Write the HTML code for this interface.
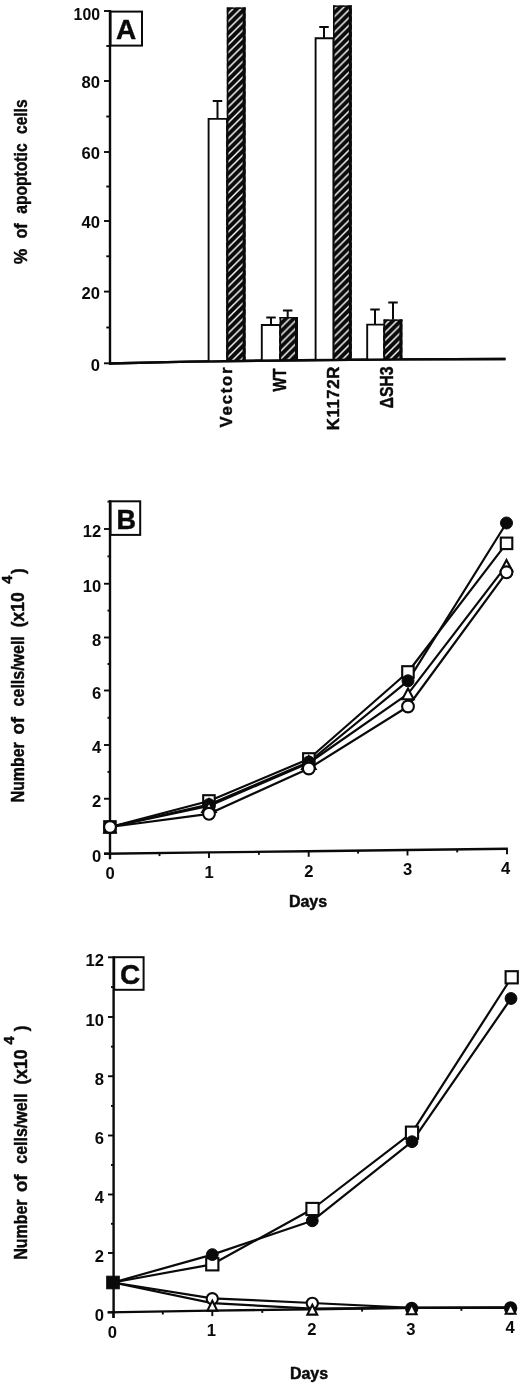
<!DOCTYPE html>
<html lang="en">
<head>
<meta charset="utf-8">
<title>Figure: apoptosis and cell growth</title>
<style>
html,body{margin:0;padding:0;background:#fff;}
body{width:520px;height:1387px;overflow:hidden;}
svg{display:block;position:absolute;left:0;top:0;filter:blur(0.35px);}
text{font-family:"Liberation Sans",sans-serif;fill:#0a0a0a;}
.b{font-weight:bold;stroke:#0a0a0a;stroke-width:0.45;stroke-linejoin:round;}
.ax{stroke:#0a0a0a;stroke-width:2.4;fill:none;stroke-linecap:butt;}
.tk{stroke:#0a0a0a;stroke-width:1.9;fill:none;}
.ln{stroke:#0a0a0a;stroke-width:2.2;fill:none;stroke-linejoin:round;}
.eb{stroke:#0a0a0a;stroke-width:2.0;fill:none;}
.ob{stroke:#0a0a0a;stroke-width:1.9;fill:#fff;}
.mk{stroke:#0a0a0a;stroke-width:2.1;fill:#fff;}
.mf{stroke:#0a0a0a;stroke-width:1;fill:#0a0a0a;}
.mk3{stroke:#0a0a0a;stroke-width:3.4;fill:#fff;}
.mk2{stroke:#0a0a0a;stroke-width:2.2;fill:#0a0a0a;}
.num{font-weight:bold;}
</style>
</head>
<body>
<svg width="520" height="1387" viewBox="0 0 520 1387">
<defs>
<pattern id="hatch" patternUnits="userSpaceOnUse" width="7.8" height="7.8" x="0" y="0">
<rect x="0" y="0" width="7.8" height="7.8" fill="#0a0a0a"/>
<path d="M-1.95,1.95 L1.95,-1.95 M-1,8.8 L8.8,-1 M5.85,9.75 L9.75,5.85" stroke="#fff" stroke-width="1.4"/>
</pattern>
</defs>
<rect x="0" y="0" width="520" height="1387" fill="#fff"/>

<g id="panelA">
<path class="ax" d="M110,10 L110,364.5"/>
<path class="ax" d="M109,363.5 L190,361.6 L300,360.2 L400,359.4 L505.5,359"/>
<path class="tk" d="M104,11 L110,11"/>
<text class="num" transform="translate(100.0,19.5) scale(0.99,1.06)" font-size="16" text-anchor="end">100</text>
<path class="tk" d="M104,81 L110,81"/>
<text class="num" transform="translate(100.0,88.4) scale(1.04,1.06)" font-size="16" text-anchor="end">80</text>
<path class="tk" d="M104,152 L110,152"/>
<text class="num" transform="translate(100.0,159.4) scale(1.04,1.06)" font-size="16" text-anchor="end">60</text>
<path class="tk" d="M104,221 L110,221"/>
<text class="num" transform="translate(100.0,228.4) scale(1.04,1.06)" font-size="16" text-anchor="end">40</text>
<path class="tk" d="M104,291.6 L110,291.6"/>
<text class="num" transform="translate(100.0,299.0) scale(1.04,1.06)" font-size="16" text-anchor="end">20</text>
<path class="tk" d="M104,363.3 L110,363.3"/>
<text class="num" transform="translate(100.0,370.7) scale(1.04,1.06)" font-size="16" text-anchor="end">0</text>
<path class="tk" d="M106.3,46.0 L110,46.0"/>
<path class="tk" d="M106.3,116.5 L110,116.5"/>
<path class="tk" d="M106.3,186.5 L110,186.5"/>
<path class="tk" d="M106.3,256.3 L110,256.3"/>
<path class="tk" d="M106.3,327.5 L110,327.5"/>
<rect x="110.6" y="11.6" width="31.4" height="34" fill="#fff" stroke="#0a0a0a" stroke-width="2"/>
<text class="b" x="126" y="38.8" font-size="28" text-anchor="middle">A</text>
<text class="b" transform="translate(26.5,264.2) rotate(-90)" font-size="19" textLength="15.6" lengthAdjust="spacingAndGlyphs">%</text>
<text class="b" transform="translate(26.5,238.5) rotate(-90)" font-size="19" textLength="15.2" lengthAdjust="spacingAndGlyphs">of</text>
<text class="b" transform="translate(26.5,213.8) rotate(-90)" font-size="19" textLength="70.4" lengthAdjust="spacingAndGlyphs">apoptotic</text>
<text class="b" transform="translate(26.5,134) rotate(-90)" font-size="19" textLength="34.6" lengthAdjust="spacingAndGlyphs">cells</text>
<path class="eb" d="M217.5,119 L217.5,101 M212.75,101 L222.25,101"/>
<path class="ob" d="M208.6,362 L208.6,118.9 L227,118.9 L227,362"/>
<rect x="226.8" y="7.5" width="18.80" height="354.00" fill="url(#hatch)"/>
<rect x="226.8" y="7.5" width="1.6" height="354.00" fill="#0a0a0a"/>
<rect x="242.60" y="7.5" width="3" height="354.00" fill="#0a0a0a"/>
<rect x="226.8" y="7.5" width="18.80" height="1.4" fill="#0a0a0a"/>
<path class="eb" d="M271,325 L271,317.5 M266.25,317.5 L275.75,317.5"/>
<path class="eb" d="M287.7,317 L287.7,310.5 M282.95,310.5 L292.45,310.5"/>
<path class="ob" d="M261.8,361 L261.8,325 L280,325 L280,361"/>
<rect x="279.6" y="317" width="18.40" height="43.80" fill="url(#hatch)"/>
<rect x="279.6" y="317" width="1.6" height="43.80" fill="#0a0a0a"/>
<rect x="295.00" y="317" width="3" height="43.80" fill="#0a0a0a"/>
<rect x="279.6" y="317" width="18.40" height="1.4" fill="#0a0a0a"/>
<path class="eb" d="M324,38 L324,27 M319.25,27 L328.75,27"/>
<path class="ob" d="M315.6,360.5 L315.6,38.3 L333.4,38.3 L333.4,360.5"/>
<rect x="333" y="5.5" width="18.80" height="354.90" fill="url(#hatch)"/>
<rect x="333" y="5.5" width="1.6" height="354.90" fill="#0a0a0a"/>
<rect x="348.80" y="5.5" width="3" height="354.90" fill="#0a0a0a"/>
<rect x="333" y="5.5" width="18.80" height="1.4" fill="#0a0a0a"/>
<path class="eb" d="M375,324.5 L375,309.5 M370.25,309.5 L379.75,309.5"/>
<path class="eb" d="M393,319.5 L393,302.5 M388.25,302.5 L397.75,302.5"/>
<path class="ob" d="M367.2,360 L367.2,324.6 L384,324.6 L384,360"/>
<rect x="383.6" y="319.5" width="18.80" height="40.50" fill="url(#hatch)"/>
<rect x="383.6" y="319.5" width="1.6" height="40.50" fill="#0a0a0a"/>
<rect x="399.40" y="319.5" width="3" height="40.50" fill="#0a0a0a"/>
<rect x="383.6" y="319.5" width="18.80" height="1.4" fill="#0a0a0a"/>
<path class="ax" d="M109,363.5 L190,361.6 L300,360.2 L400,359.4 L505.5,359"/>
<text class="b" transform="translate(232.4,427.4) rotate(-90)" font-size="16.8" textLength="60" lengthAdjust="spacing">Vector</text>
<text class="b" transform="translate(286,391.5) rotate(-90)" font-size="18.4" textLength="23" lengthAdjust="spacingAndGlyphs">WT</text>
<text class="b" transform="translate(338.6,430.3) rotate(-90)" font-size="16.8" textLength="63.6" lengthAdjust="spacing">K1172R</text>
<text class="b" transform="translate(393.4,408.4) rotate(-90)" font-size="18.2" textLength="42" lengthAdjust="spacingAndGlyphs">ΔSH3</text>
</g>
<g id="panelB">
<path class="ax" d="M110,500.2 L110,859"/>
<path class="ax" d="M104,853.8 L209,852.4 L308,851.3 L407,850 L507.8,848.8"/>
<path class="tk" d="M104,529 L110,529"/>
<text class="num" transform="translate(101.3,537.2) scale(1.04,1.06)" font-size="16" text-anchor="end">12</text>
<path class="tk" d="M104,583.75 L110,583.75"/>
<text class="num" transform="translate(101.3,591.9) scale(1.04,1.06)" font-size="16" text-anchor="end">10</text>
<path class="tk" d="M104,637.5 L110,637.5"/>
<text class="num" transform="translate(101.3,645.7) scale(1.04,1.06)" font-size="16" text-anchor="end">8</text>
<path class="tk" d="M104,690.5 L110,690.5"/>
<text class="num" transform="translate(101.3,698.7) scale(1.04,1.06)" font-size="16" text-anchor="end">6</text>
<path class="tk" d="M104,745 L110,745"/>
<text class="num" transform="translate(101.3,753.2) scale(1.04,1.06)" font-size="16" text-anchor="end">4</text>
<path class="tk" d="M104,798.75 L110,798.75"/>
<text class="num" transform="translate(101.3,806.9) scale(1.04,1.06)" font-size="16" text-anchor="end">2</text>
<path class="tk" d="M104,853.6 L110,853.6"/>
<text class="num" transform="translate(101.3,861.8) scale(1.04,1.06)" font-size="16" text-anchor="end">0</text>
<path class="tk" d="M107.5,556.4 L110,556.4"/>
<path class="tk" d="M107.5,610.6 L110,610.6"/>
<path class="tk" d="M107.5,664.0 L110,664.0"/>
<path class="tk" d="M107.5,717.8 L110,717.8"/>
<path class="tk" d="M107.5,771.9 L110,771.9"/>
<path class="tk" d="M107.5,826.2 L110,826.2"/>
<path class="tk" d="M107.5,501.6 L110,501.6"/>
<path class="tk" d="M110,853.8 L110,859.3"/>
<text class="num" transform="translate(110.2,879.1) scale(1.04,1.06)" font-size="16" text-anchor="middle">0</text>
<path class="tk" d="M209,852.4 L209,857.9"/>
<text class="num" transform="translate(209.2,877.7) scale(1.04,1.06)" font-size="16" text-anchor="middle">1</text>
<path class="tk" d="M308.7,851.3 L308.7,856.8"/>
<text class="num" transform="translate(308.9,876.6) scale(1.04,1.06)" font-size="16" text-anchor="middle">2</text>
<path class="tk" d="M407.5,850 L407.5,855.5"/>
<text class="num" transform="translate(407.7,875.3) scale(1.04,1.06)" font-size="16" text-anchor="middle">3</text>
<path class="tk" d="M507,848.8 L507,854.3"/>
<text class="num" transform="translate(505.6,874.1) scale(1.04,1.06)" font-size="16" text-anchor="middle">4</text>
<path class="tk" d="M159.5,853.1 L159.5,856.1"/>
<path class="tk" d="M258.9,851.8 L258.9,854.8"/>
<path class="tk" d="M358.1,850.6 L358.1,853.6"/>
<path class="tk" d="M457.2,849.4 L457.2,852.4"/>
<text class="b" x="308" y="907" font-size="16" text-anchor="middle">Days</text>
<rect x="110.6" y="501.3" width="29.6" height="33.6" fill="#fff" stroke="#0a0a0a" stroke-width="2"/>
<text class="b" x="126.3" y="528.6" font-size="27" text-anchor="middle">B</text>
<text class="b" transform="translate(24.2,802.3) rotate(-90)" font-size="17.7" textLength="60" lengthAdjust="spacingAndGlyphs">Number</text>
<text class="b" transform="translate(24.2,734.6) rotate(-90)" font-size="17.7" textLength="17.4" lengthAdjust="spacingAndGlyphs">of</text>
<text class="b" transform="translate(24.2,706.4) rotate(-90)" font-size="17.7" textLength="70.2" lengthAdjust="spacingAndGlyphs">cells/well</text>
<text class="b" transform="translate(24.2,627.3) rotate(-90)" font-size="17.7" textLength="35" lengthAdjust="spacingAndGlyphs">(x10</text>
<text class="b" transform="translate(11.5,583.8) rotate(-90)" font-size="13.8" textLength="8.2" lengthAdjust="spacingAndGlyphs">4</text>
<text class="b" transform="translate(24.2,574) rotate(-90)" font-size="17.7" textLength="5.6" lengthAdjust="spacingAndGlyphs">)</text>
<polyline class="ln" points="110.0,827.0 209.0,801.0 308.8,759.0 408.0,672.0 506.5,543.4"/>
<polyline class="ln" points="110.0,827.0 209.0,804.6 308.8,762.0 408.0,680.8 506.5,523.0"/>
<polyline class="ln" points="110.0,827.0 209.0,806.0 308.8,763.0 408.0,693.8 506.5,565.4"/>
<polyline class="ln" points="110.0,827.0 209.0,813.8 308.8,768.5 408.0,706.5 506.5,572.3"/>
<rect class="mk" x="104.2" y="821.2" width="11.5" height="11.5"/>
<circle class="mf" cx="110.0" cy="827.0" r="6.0"/>
<path class="mk" d="M110.0,821.6 L115.7,832.4 L104.3,832.4 Z"/>
<circle class="mk" cx="110.0" cy="827.0" r="5.9"/>
<rect class="mk" x="203.2" y="795.2" width="11.5" height="11.5"/>
<circle class="mf" cx="209.0" cy="804.6" r="6.0"/>
<path class="mk3" d="M209.0,800.6 L214.7,811.4 L203.3,811.4 Z"/>
<circle class="mk" cx="209.0" cy="813.8" r="5.9"/>
<rect class="mk" x="303.1" y="753.2" width="11.5" height="11.5"/>
<circle class="mf" cx="308.8" cy="762.0" r="6.0"/>
<path class="mk3" d="M308.8,757.6 L314.5,768.4 L303.1,768.4 Z"/>
<circle class="mk" cx="308.8" cy="768.5" r="5.9"/>
<rect class="mk" x="402.2" y="666.2" width="11.5" height="11.5"/>
<circle class="mf" cx="408.0" cy="680.8" r="6.0"/>
<path class="mk" d="M408.0,688.4 L413.7,699.2 L402.3,699.2 Z"/>
<circle class="mk" cx="408.0" cy="706.5" r="5.9"/>
<rect class="mk" x="500.8" y="537.6" width="11.5" height="11.5"/>
<circle class="mf" cx="506.5" cy="523.0" r="6.0"/>
<path class="mk" d="M506.5,560.0 L512.2,570.8 L500.8,570.8 Z"/>
<circle class="mk" cx="506.5" cy="572.3" r="5.9"/>
</g>
<g id="panelC">
<path class="ax" d="M113.6,956.2 L113.6,1318"/>
<path class="ax" d="M107.5,1312.4 L212,1310.6 L312,1309.3 L412,1307.9 L512,1307.7"/>
<path class="tk" d="M108,957.3 L113.6,957.3"/>
<text class="num" transform="translate(103.9,965.8) scale(1.04,1.06)" font-size="16" text-anchor="end">12</text>
<path class="tk" d="M108,1017 L113.6,1017"/>
<text class="num" transform="translate(103.9,1025.5) scale(1.04,1.06)" font-size="16" text-anchor="end">10</text>
<path class="tk" d="M108,1076.25 L113.6,1076.25"/>
<text class="num" transform="translate(103.9,1084.7) scale(1.04,1.06)" font-size="16" text-anchor="end">8</text>
<path class="tk" d="M108,1135.5 L113.6,1135.5"/>
<text class="num" transform="translate(103.9,1144.0) scale(1.04,1.06)" font-size="16" text-anchor="end">6</text>
<path class="tk" d="M108,1194.5 L113.6,1194.5"/>
<text class="num" transform="translate(103.9,1203.0) scale(1.04,1.06)" font-size="16" text-anchor="end">4</text>
<path class="tk" d="M108,1253 L113.6,1253"/>
<text class="num" transform="translate(103.9,1261.5) scale(1.04,1.06)" font-size="16" text-anchor="end">2</text>
<path class="tk" d="M108,1312.3 L113.6,1312.3"/>
<text class="num" transform="translate(103.9,1320.8) scale(1.04,1.06)" font-size="16" text-anchor="end">0</text>
<path class="tk" d="M111,987.1 L113.6,987.1"/>
<path class="tk" d="M111,1046.6 L113.6,1046.6"/>
<path class="tk" d="M111,1105.9 L113.6,1105.9"/>
<path class="tk" d="M111,1165.0 L113.6,1165.0"/>
<path class="tk" d="M111,1223.8 L113.6,1223.8"/>
<path class="tk" d="M111,1282.7 L113.6,1282.7"/>
<path class="tk" d="M113.3,1312.4 L113.3,1317.9"/>
<text class="num" transform="translate(112.4,1338.4) scale(1.04,1.06)" font-size="16" text-anchor="middle">0</text>
<path class="tk" d="M212.3,1310.6 L212.3,1316.1"/>
<text class="num" transform="translate(211.4,1336.2) scale(1.04,1.06)" font-size="16" text-anchor="middle">1</text>
<path class="tk" d="M312.3,1309.3 L312.3,1314.8"/>
<text class="num" transform="translate(311.8,1335.4) scale(1.04,1.06)" font-size="16" text-anchor="middle">2</text>
<path class="tk" d="M411.8,1307.9 L411.8,1313.4"/>
<text class="num" transform="translate(410.9,1335.1) scale(1.04,1.06)" font-size="16" text-anchor="middle">3</text>
<path class="tk" d="M511,1307.7 L511,1313.2"/>
<text class="num" transform="translate(510.1,1333.4) scale(1.04,1.06)" font-size="16" text-anchor="middle">4</text>
<path class="tk" d="M162.8,1311.5 L162.8,1314.5"/>
<path class="tk" d="M262.3,1309.9 L262.3,1312.9"/>
<path class="tk" d="M362.1,1308.6 L362.1,1311.6"/>
<path class="tk" d="M461.4,1307.8 L461.4,1310.8"/>
<text class="b" x="309" y="1379" font-size="16" text-anchor="middle">Days</text>
<rect x="114.2" y="957.2" width="29.4" height="32.6" fill="#fff" stroke="#0a0a0a" stroke-width="2"/>
<text class="b" x="130" y="984.2" font-size="28" text-anchor="middle">C</text>
<text class="b" transform="translate(27.4,1259.6) rotate(-90)" font-size="17.7" textLength="60" lengthAdjust="spacingAndGlyphs">Number</text>
<text class="b" transform="translate(27.4,1191.9) rotate(-90)" font-size="17.7" textLength="17.4" lengthAdjust="spacingAndGlyphs">of</text>
<text class="b" transform="translate(27.4,1163.7) rotate(-90)" font-size="17.7" textLength="70.2" lengthAdjust="spacingAndGlyphs">cells/well</text>
<text class="b" transform="translate(27.4,1084.6) rotate(-90)" font-size="17.7" textLength="35" lengthAdjust="spacingAndGlyphs">(x10</text>
<text class="b" transform="translate(14.4,1044.4) rotate(-90)" font-size="13.8" textLength="8.2" lengthAdjust="spacingAndGlyphs">4</text>
<text class="b" transform="translate(27.4,1031.3) rotate(-90)" font-size="17.7" textLength="5.6" lengthAdjust="spacingAndGlyphs">)</text>
<polyline class="ln" points="113.0,1282.5 212.3,1264.3 312.5,1209.0 412.0,1132.7 511.7,977.3"/>
<polyline class="ln" points="113.0,1282.5 212.3,1254.6 312.3,1220.8 412.0,1141.7 511.0,998.5"/>
<polyline class="ln" points="113.0,1282.5 212.3,1303.2 312.3,1308.6 411.8,1307.9 511.0,1307.7"/>
<polyline class="ln" points="113.0,1282.5 212.3,1298.3 312.3,1303.0 411.8,1307.9 511.0,1307.7"/>
<rect class="mf" x="106.7" y="1276.2" width="12.6" height="12.6"/>
<circle class="mk" cx="212.3" cy="1298.7" r="5.6"/>
<path class="mk" d="M212.3,1300.8 L217.2,1310.6 L207.4,1310.6 Z"/>
<rect class="mk" x="206.2" y="1258.2" width="12.2" height="12.2"/>
<circle class="mf" cx="212.3" cy="1254.6" r="5.9"/>
<circle class="mk" cx="312.3" cy="1303.3" r="5.6"/>
<path class="mk" d="M312.3,1304.8 L317.2,1314.6 L307.4,1314.6 Z"/>
<rect class="mk" x="306.4" y="1202.9" width="12.2" height="12.2"/>
<circle class="mf" cx="312.3" cy="1220.8" r="5.9"/>
<circle class="mk2" cx="411.7" cy="1308.4" r="5.6"/>
<path class="mk" d="M411.7,1304.4 L416.6,1314.2 L406.8,1314.2 Z"/>
<rect class="mk" x="405.9" y="1126.6" width="12.2" height="12.2"/>
<circle class="mf" cx="412.0" cy="1141.7" r="5.9"/>
<circle class="mk2" cx="510.6" cy="1307.9" r="5.6"/>
<path class="mk" d="M510.6,1304.0 L515.5,1313.8 L505.7,1313.8 Z"/>
<rect class="mk" x="505.6" y="971.2" width="12.2" height="12.2"/>
<circle class="mf" cx="511.0" cy="998.5" r="5.9"/>
</g>
</svg>
</body>
</html>
